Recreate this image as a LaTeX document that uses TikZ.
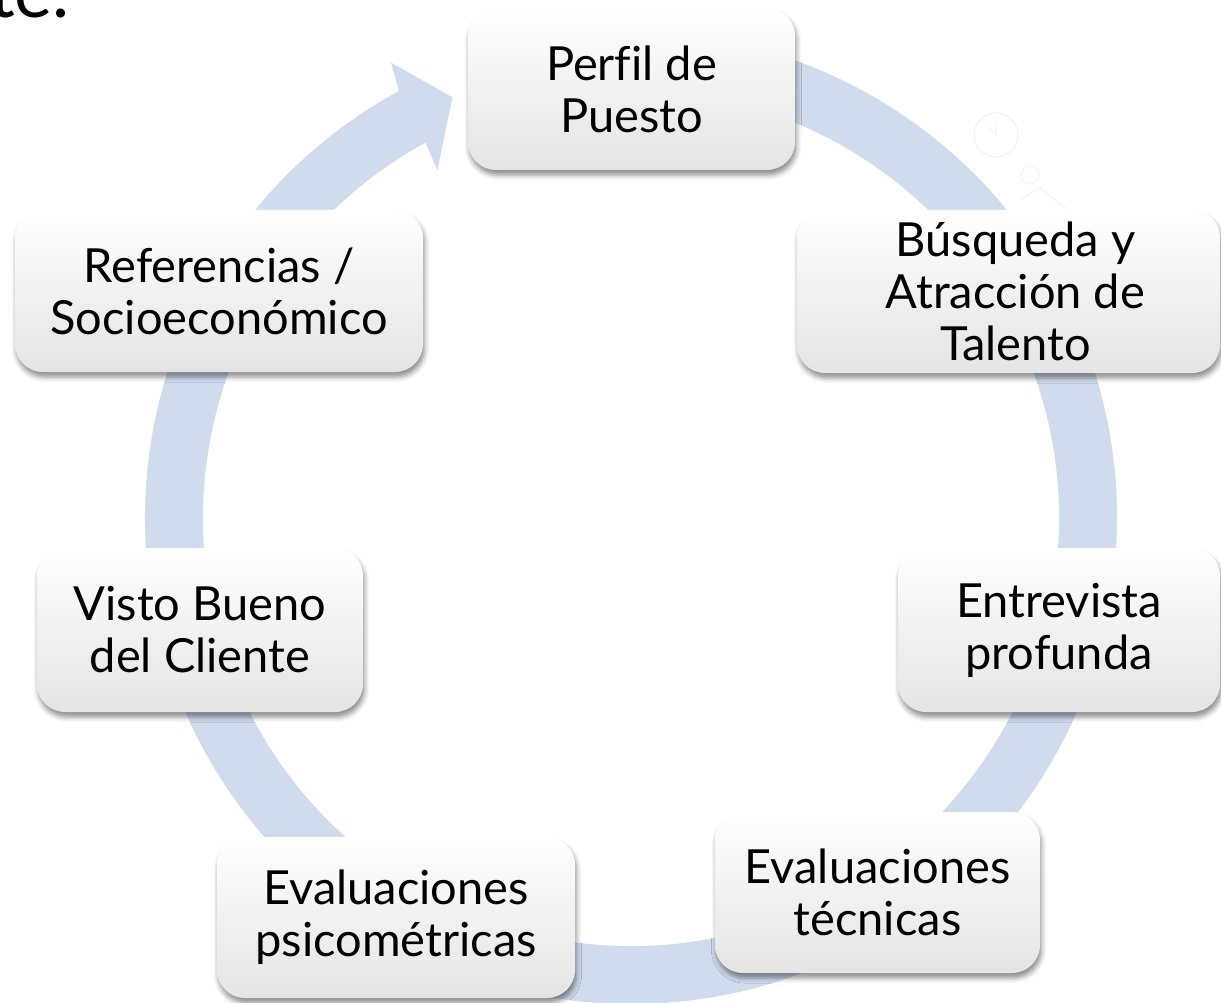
\documentclass[tikz,border=0pt]{standalone}
\usepackage{fontspec}
\setmainfont{Lato}[Ligatures={NoCommon}]
\usetikzlibrary{shadows.blur}
\definecolor{ringblue}{RGB}{208,220,238}
\definecolor{boxgray}{RGB}{228,228,228}
\begin{document}
\begin{tikzpicture}[x=1pt,y=1pt,
  stage/.style={rounded corners=28pt, top color=white, middle color=white, bottom color=boxgray,
    blur shadow={shadow xshift=1.5pt, shadow yshift=-5pt, shadow blur radius=5pt, shadow opacity=45},
    align=center, inner sep=0pt, text=black, font=\fontsize{47}{52}\selectfont},
  faint/.style={draw=black!4, line width=1.5pt}]
\useasboundingbox (0,0) rectangle (1221,-1003);
\clip (0,0) rectangle (1221,-1003);
% partial title text
\node[anchor=base east, inner sep=0pt, font=\fontsize{72}{80}\selectfont] (title) at (70,-18) {te.};
% faint watermark icon
\draw[faint] (996,-135) circle[radius=22];
\draw[faint] (996,-122) -- (996,-135) -- (988,-127);
\draw[faint] (1030,-175) circle[radius=9];
\draw[faint] (1020,-200) -- (1040,-188) -- (1068,-210);
% circular arrow ring
\begin{scope}[shift={(631,-518)}]
\fill[ringblue] (85:486) arc[start angle=85, end angle=-241.5, radius=486]
  -- (-242.2:515) -- (-247:457) -- (-240.9:398) -- (-241.3:428)
  arc[start angle=-241.3, end angle=85, radius=428] -- cycle;
\end{scope}
% stages
\node[stage, minimum width=327pt, minimum height=162pt] (perfil) at (631.5,-89) {Perfil de\\Puesto};
\node[stage, minimum width=423pt, minimum height=163pt] (busq) at (1008.5,-291.5) {\hspace*{14pt}Búsqueda y\\\hspace*{14pt}Atracción de\\\hspace*{14pt}Talento};
\node[stage, minimum width=322pt, minimum height=164pt] (entre) at (1059,-630) {Entrevista\\profunda};
\node[stage, minimum width=325pt, minimum height=161pt] (tecn) at (877.5,-892.5) {Evaluaciones\\técnicas};
\node[stage, minimum width=358pt, minimum height=161pt] (psico) at (396,-917.5) {Evaluaciones\\psicométricas};
\node[stage, minimum width=326pt, minimum height=164pt] (visto) at (200,-630) {Visto Bueno\\del Cliente};
\node[stage, minimum width=408pt, minimum height=162pt] (refs) at (219,-291) {Referencias /\\Socioeconómico};
\end{tikzpicture}
\end{document}
